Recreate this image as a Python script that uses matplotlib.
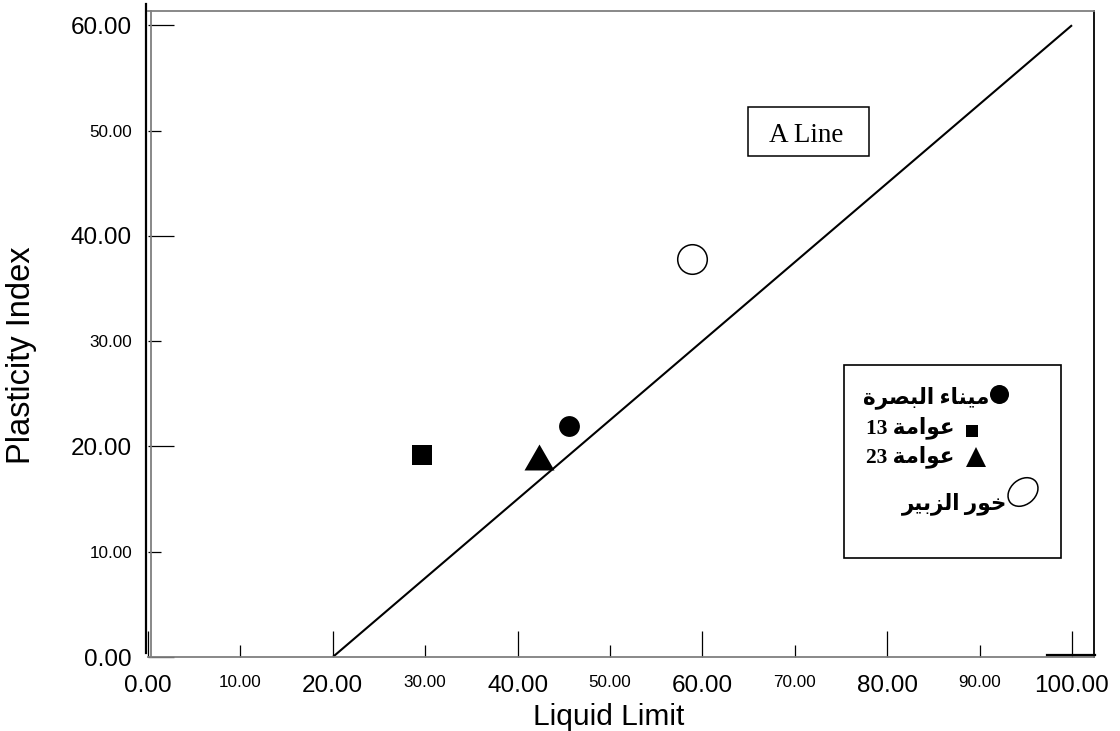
import matplotlib
matplotlib.use("Agg")
import matplotlib.pyplot as plt
from matplotlib.ticker import FixedLocator, FormatStrFormatter
from matplotlib.patches import Rectangle, Ellipse

# ---------------- data ----------------
# site names (logical Arabic text)
site_names = ["ميناء البصرة", "عوامة 13", "عوامة 23", "خور الزبير"]
# same names in shaped (presentation-form) visual order, for rendering
site_names_visual = [
    "\uFE93\uFEAE\uFEBC\uFE92\uFEDF\uFE8D \uFE80\uFE8E\uFEE8\uFEF4\uFEE3",
    "13 \uFE94\uFEE3\uFE8D\uFEEE\uFECB",
    "23 \uFE94\uFEE3\uFE8D\uFEEE\uFECB",
    "\uFEAE\uFEF4\uFE91\uFEB0\uFEDF\uFE8D \uFEAD\uFEEE\uFEA7",
]
liquid_limit = [45.6, 29.7, 42.3, 58.9]
plasticity_index = [21.9, 19.2, 18.95, 37.8]

aline_ll = [20, 100]
aline_pi = [0, 60]

x_major = [0, 20, 40, 60, 80, 100]
x_minor = [10, 30, 50, 70, 90]
y_major = [0, 20, 40, 60]
y_minor = [10, 30, 50]

# ---------------- figure ----------------
W, H = 1120, 731
fig = plt.figure(figsize=(W / 100, H / 100), dpi=100)
fig.patch.set_facecolor("white")

L, R, B, T = 148, 1094, 657, 11
ax = fig.add_axes([L / W, (H - B) / H, (R - L) / W, (B - T) / H])
ax.set_xlim(0, (R - L) / 9.24)
ax.set_ylim(0, (B - T) / 10.53)

for s in ("top", "bottom"):
    ax.spines[s].set_color("#7f7f7f")
    ax.spines[s].set_linewidth(1.3)
ax.spines["left"].set_visible(False)
ax.spines["right"].set_color("black")
ax.spines["right"].set_linewidth(1.3)

tick_font = "Liberation Sans"
ax.xaxis.set_major_locator(FixedLocator(x_major))
ax.xaxis.set_minor_locator(FixedLocator(x_minor))
ax.yaxis.set_major_locator(FixedLocator(y_major))
ax.yaxis.set_minor_locator(FixedLocator(y_minor))
for axis in (ax.xaxis, ax.yaxis):
    axis.set_major_formatter(FormatStrFormatter("%.2f"))
    axis.set_minor_formatter(FormatStrFormatter("%.2f"))

ax.tick_params(which="major", direction="in", length=19, width=0.9,
               labelsize=17.5, color="black")
ax.tick_params(which="minor", direction="in", length=9, width=0.9,
               labelsize=12.3, color="black")
ax.tick_params(axis="x", which="both", pad=13)
ax.tick_params(axis="y", which="both", pad=11.5)
for lab in ax.get_xticklabels(which="both") + ax.get_yticklabels(which="both"):
    lab.set_fontfamily(tick_font)

# A line
ax.plot(aline_ll, aline_pi, color="black", lw=1.5, solid_capstyle="butt", zorder=2)

# data points
tri = [(-1, -0.866), (1, -0.866), (0, 0.866), (-1, -0.866)]
styles = [
    dict(marker="o", ms=15, mfc="black", mec="black", mew=0),
    dict(marker="s", ms=13.7, mfc="black", mec="black", mew=0),
    dict(marker=tri, ms=21.6, mfc="black", mec="black", mew=0),
    dict(marker="o", ms=21.3, mfc="white", mec="black", mew=1.1),
]
for x, y, st, name in zip(liquid_limit, plasticity_index, styles, site_names):
    ax.plot([x], [y], linestyle="none", label=name, zorder=3, **st)

ax.set_xlabel("Liquid Limit", fontsize=21.5, fontfamily=tick_font)
ax.set_ylabel("Plasticity Index", fontsize=23.5, fontfamily=tick_font)
ax.xaxis.label.set_va("baseline")
ax.xaxis.set_label_coords((608.5 - L) / (R - L), (B - 725) / (B - T))
ax.yaxis.label.set_va("center")
ax.yaxis.label.set_ha("center")
ax.yaxis.set_label_coords((22 - L) / (R - L), (B - 355) / (B - T))

# ---------------- overlay (pixel coords) ----------------
ov = fig.add_axes([0, 0, 1, 1], zorder=5)
ov.set_xlim(0, W)
ov.set_ylim(H, 0)
ov.axis("off")
ov.patch.set_alpha(0)

# frame extras
ov.plot([146, 146], [4, 653], color="black", lw=1.6)
ov.plot([151, 151], [11, 657], color="#7f7f7f", lw=1.3)
ov.plot([1047, 1095], [655, 655], color="black", lw=1.6)

# A Line label box
ov.add_patch(Rectangle((747.7, 107.3), 121.6, 48.4, fill=False, ec="black", lw=1.1))
ov.text(806.5, 141.7, "A Line", ha="center", va="baseline", fontsize=19.5,
        fontfamily="Liberation Serif")

# legend box
ov.add_patch(Rectangle((844, 365), 217, 193, fill=False, ec="black", lw=1.2))
arab_font = ["Liberation Serif", "DejaVu Sans"]
text_pos = [(989, 398), (954, 428), (954, 457), (1007, 504)]
for (tx, ty), lab in zip(text_pos, site_names_visual):
    ov.text(tx, ty, lab, ha="right", va="center", fontsize=15.5, fontweight="bold",
            fontfamily=arab_font)
ov.plot([998.5], [394], marker="o", ms=13.7, mfc="black", mec="black", mew=0, ls="none")
ov.plot([971.5], [431], marker="s", ms=8, mfc="black", mec="black", mew=0, ls="none")
ov.plot([975.5], [457], marker="^", ms=13.7, mfc="black", mec="black", mew=0, ls="none")
ov.add_patch(Ellipse((1023, 492), 33, 25, angle=-40, fill=False, ec="black", lw=1.1))

fig.savefig("out.png", dpi=100)
